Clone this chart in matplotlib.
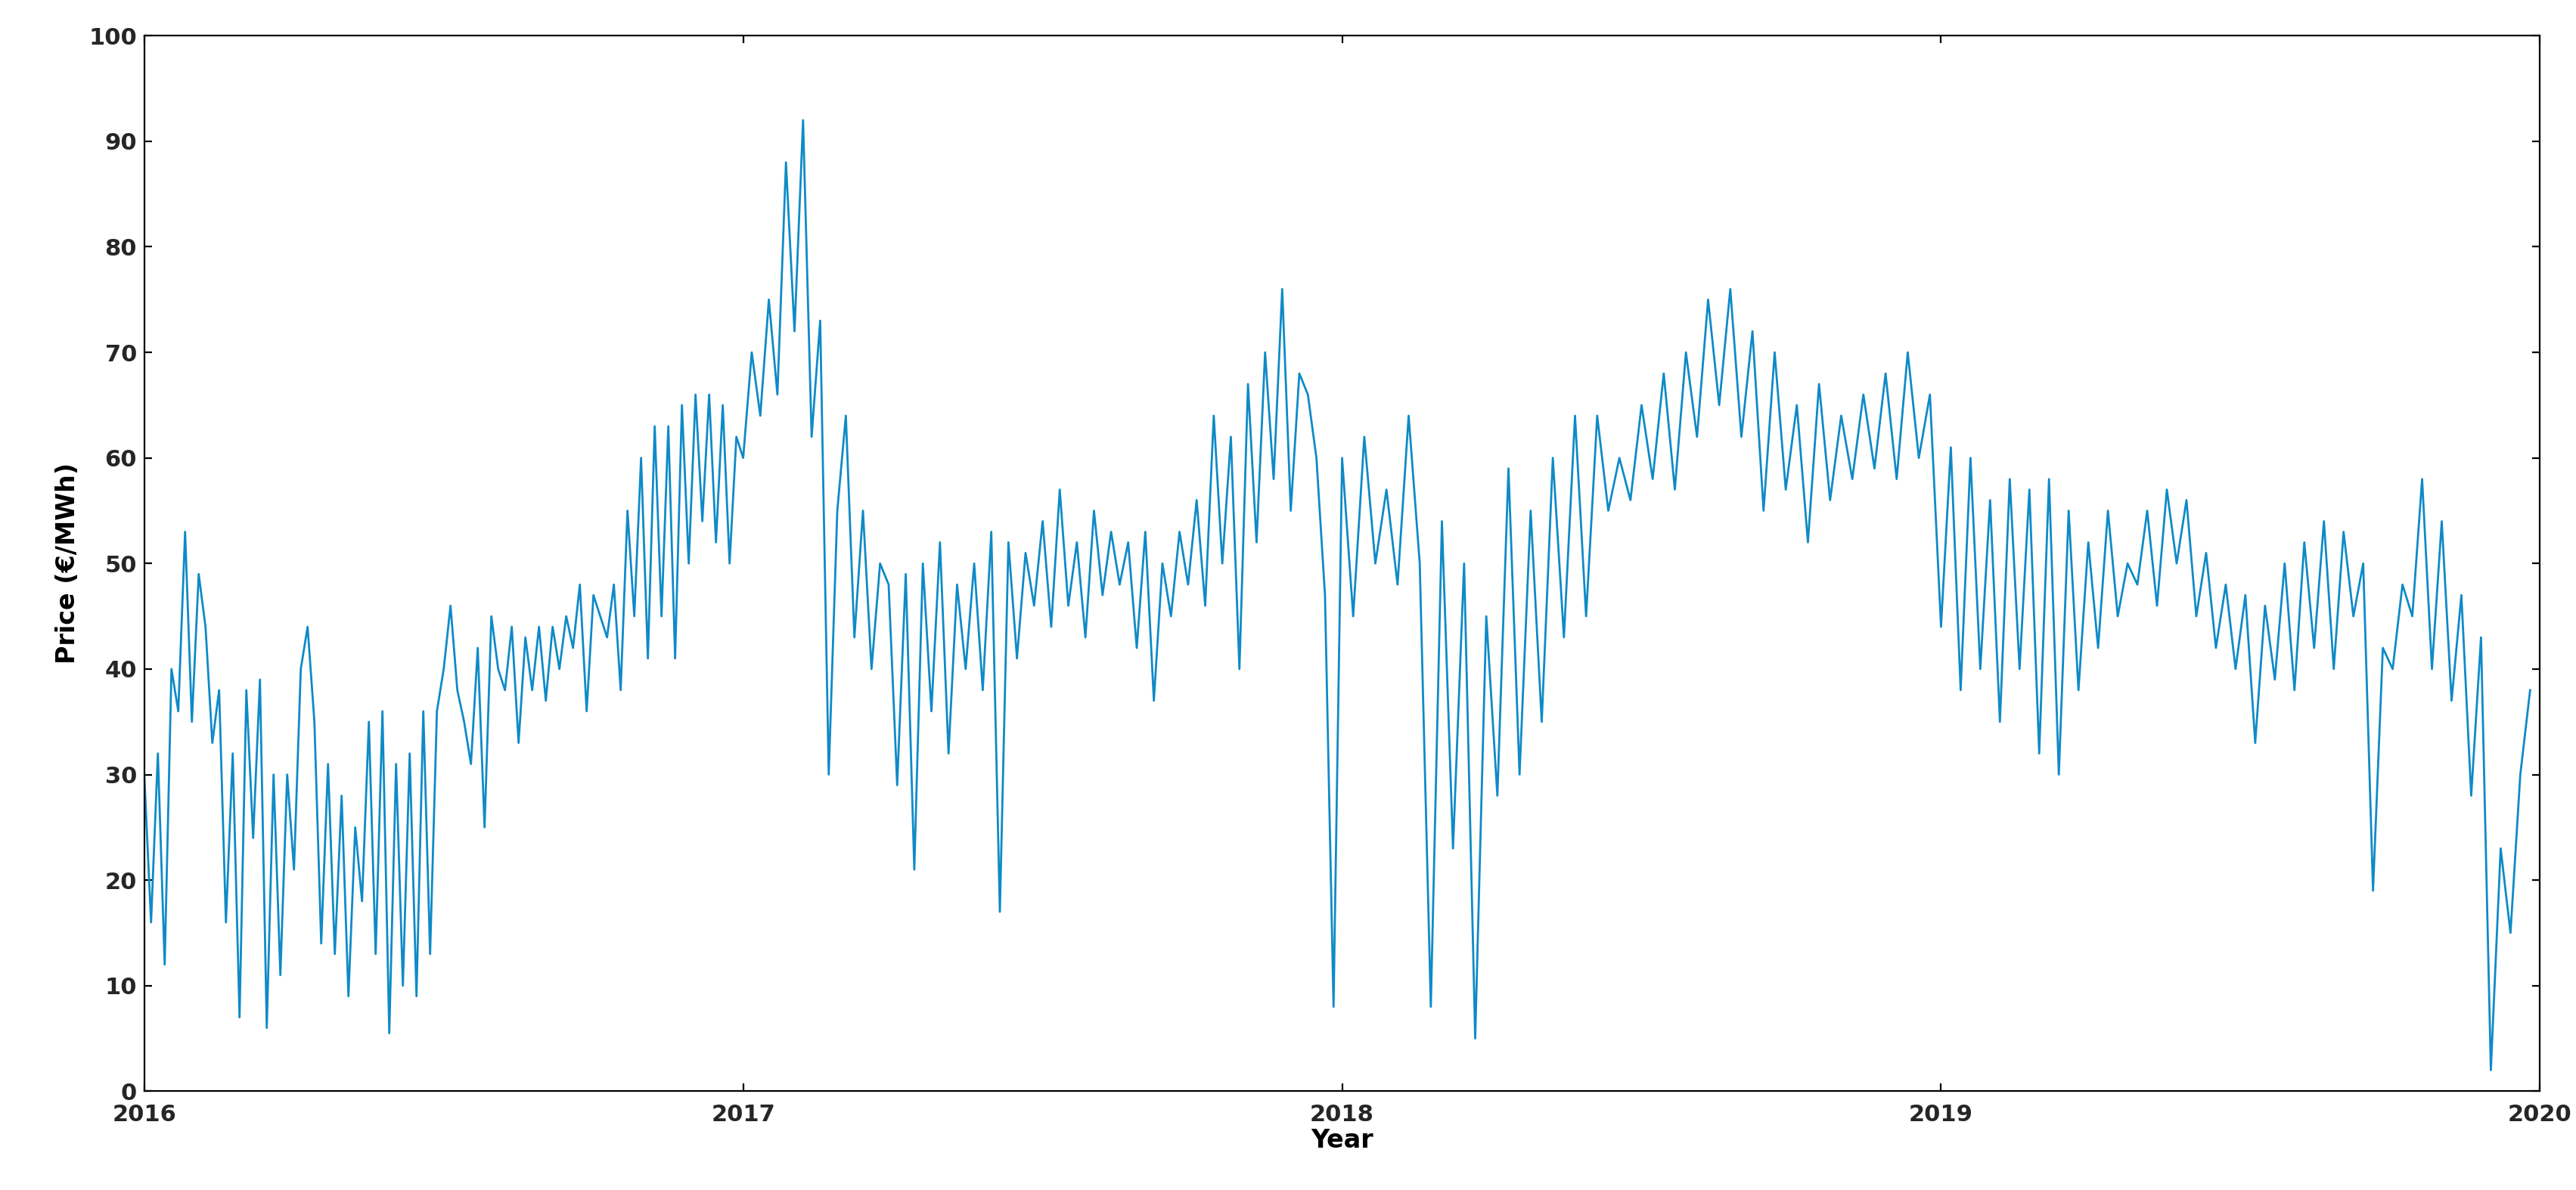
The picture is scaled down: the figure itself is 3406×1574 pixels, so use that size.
import numpy as np
import pandas as pd
import matplotlib
matplotlib.use("Agg")
import matplotlib.pyplot as plt

# Approximate daily price readings per year (evenly spread within each year)
y2016 = [30,16,32,12,40,36,53,35,49,44,33,38,16,32,7,38,24,39,6,30,11,30,21,40,44,35,14,31,13,28,
         9,25,18,35,13,36,5.5,31,10,32,9,36,13,36,40,46,38,35,31,42,25,45,40,38,44,33,43,38,44,37,
         44,40,45,42,48,36,47,45,43,48,38,55,45,60,41,63,45,63,41,65,50,66,54,66,52,65,50,62]
y2017 = [60,70,64,75,66,88,72,92,62,73,30,55,64,43,55,40,50,48,29,49,21,50,36,52,32,48,40,50,38,53,
         17,52,41,51,46,54,44,57,46,52,43,55,47,53,48,52,42,53,37,50,45,53,48,56,46,64,50,62,40,67,
         52,70,58,76,55,68,66,60,47,8]
y2018 = [60,45,62,50,57,48,64,50,8,54,23,50,5,45,28,59,30,55,35,60,43,64,45,64,55,60,56,65,
         58,68,57,70,62,75,65,76,62,72,55,70,57,65,52,67,56,64,58,66,59,68,58,70,60,66]
y2019 = [44,61,38,60,40,56,35,58,40,57,32,58,30,55,38,52,42,55,45,50,48,55,46,57,50,56,45,51,42,48,
         40,47,33,46,39,50,38,52,42,54,40,53,45,50,19,42,40,48,45,58,40,54,37,47,28,43,2,23,15,30,38]
years = [2016, 2017, 2018, 2019]
xticks = [2016, 2017, 2018, 2019, 2020]

xs, ys = [], []
for yr, vals in zip(years, [y2016, y2017, y2018, y2019]):
    xs.extend(yr + np.arange(len(vals)) / len(vals))
    ys.extend(vals)

fig = plt.figure(figsize=(17.03, 7.87), dpi=200)
ax = fig.add_axes([0.056, 0.083, 0.930, 0.887])
ax.plot(xs, ys, color="#0F8AC7", lw=1.0)
ax.set_xlim(2016, 2020)
ax.set_ylim(0, 100)
ax.set_xticks(xticks)
ax.set_xticklabels([str(t) for t in xticks])
ax.set_yticks(range(0, 101, 10))
ax.tick_params(direction="in", top=True, right=True, labelsize=11)
ax.tick_params(axis="x", pad=6)
for lab in ax.get_xticklabels() + ax.get_yticklabels():
    lab.set_fontweight("bold"); lab.set_color("#262626")
ax.set_xlabel("Year", fontsize=12, fontweight="bold", labelpad=1)
ax.set_ylabel("Price (€/MWh)", fontsize=12, fontweight="bold")
fig.savefig("out.png", dpi=200)
